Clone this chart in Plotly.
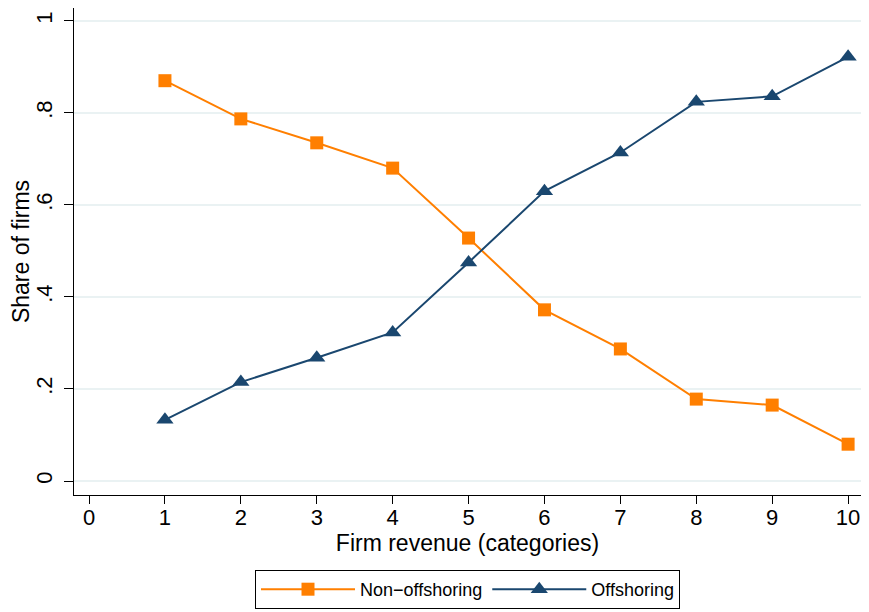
import plotly.graph_objects as go

categories = [1, 2, 3, 4, 5, 6, 7, 8, 9, 10]
non_offshoring = [0.870, 0.787, 0.735, 0.680, 0.528, 0.372, 0.287, 0.178, 0.165, 0.080]
offshoring = [0.133, 0.215, 0.268, 0.323, 0.475, 0.630, 0.714, 0.824, 0.836, 0.922]
x_ticks = [0, 1, 2, 3, 4, 5, 6, 7, 8, 9, 10]
y_ticks = [0, 0.2, 0.4, 0.6, 0.8, 1]
y_tick_labels = ["0", ".2", ".4", ".6", ".8", "1"]

ORANGE = "#FF7F00"
NAVY = "#1A476F"
FONT = "Liberation Sans, Arial, sans-serif"

fig = go.Figure()
fig.add_trace(go.Scatter(
    x=categories, y=non_offshoring, mode="lines+markers", name="Non\u2212offshoring",
    line=dict(color=ORANGE, width=2),
    marker=dict(symbol="square", size=13, color=ORANGE),
))
fig.add_trace(go.Scatter(
    x=categories, y=offshoring, mode="lines+markers", name="Offshoring",
    line=dict(color=NAVY, width=2),
    marker=dict(symbol="triangle-up", size=15, color=NAVY),
))

fig.update_layout(
    width=861, height=604,
    margin=dict(l=66, r=8, t=0, b=117, autoexpand=False),
    paper_bgcolor="white", plot_bgcolor="white",
    font=dict(family=FONT, size=18, color="black"),
    showlegend=True,
    legend=dict(
        orientation="h", x=0.5, xanchor="center", y=-0.154, yanchor="top",
        bordercolor="black", borderwidth=1, font=dict(size=18),
        itemwidth=94,
    ),
    xaxis=dict(
        range=[-0.198, 10.17], tickvals=x_ticks, ticks="outside", ticklen=8,
        tickcolor="black", showline=True, linecolor="black", linewidth=1,
        showgrid=False, zeroline=False, tickfont=dict(size=22), automargin=False,
        ticklabelstandoff=-5,
        title=dict(text="Firm revenue (categories)", font=dict(size=23), standoff=2),
    ),
    yaxis=dict(
        range=[-0.0304, 1.028], tickvals=y_ticks, ticktext=y_tick_labels,
        ticks="outside", ticklen=9, tickcolor="black", tickangle=-90,
        showline=True, linecolor="black", linewidth=1, automargin=False,
        showgrid=True, gridcolor="#EAF2F3", gridwidth=1.5, zeroline=False,
        tickfont=dict(size=22), ticklabelstandoff=3,
        title=dict(text="Share of firms", font=dict(size=23), standoff=4),
    ),
)

fig.write_html("out.html")
